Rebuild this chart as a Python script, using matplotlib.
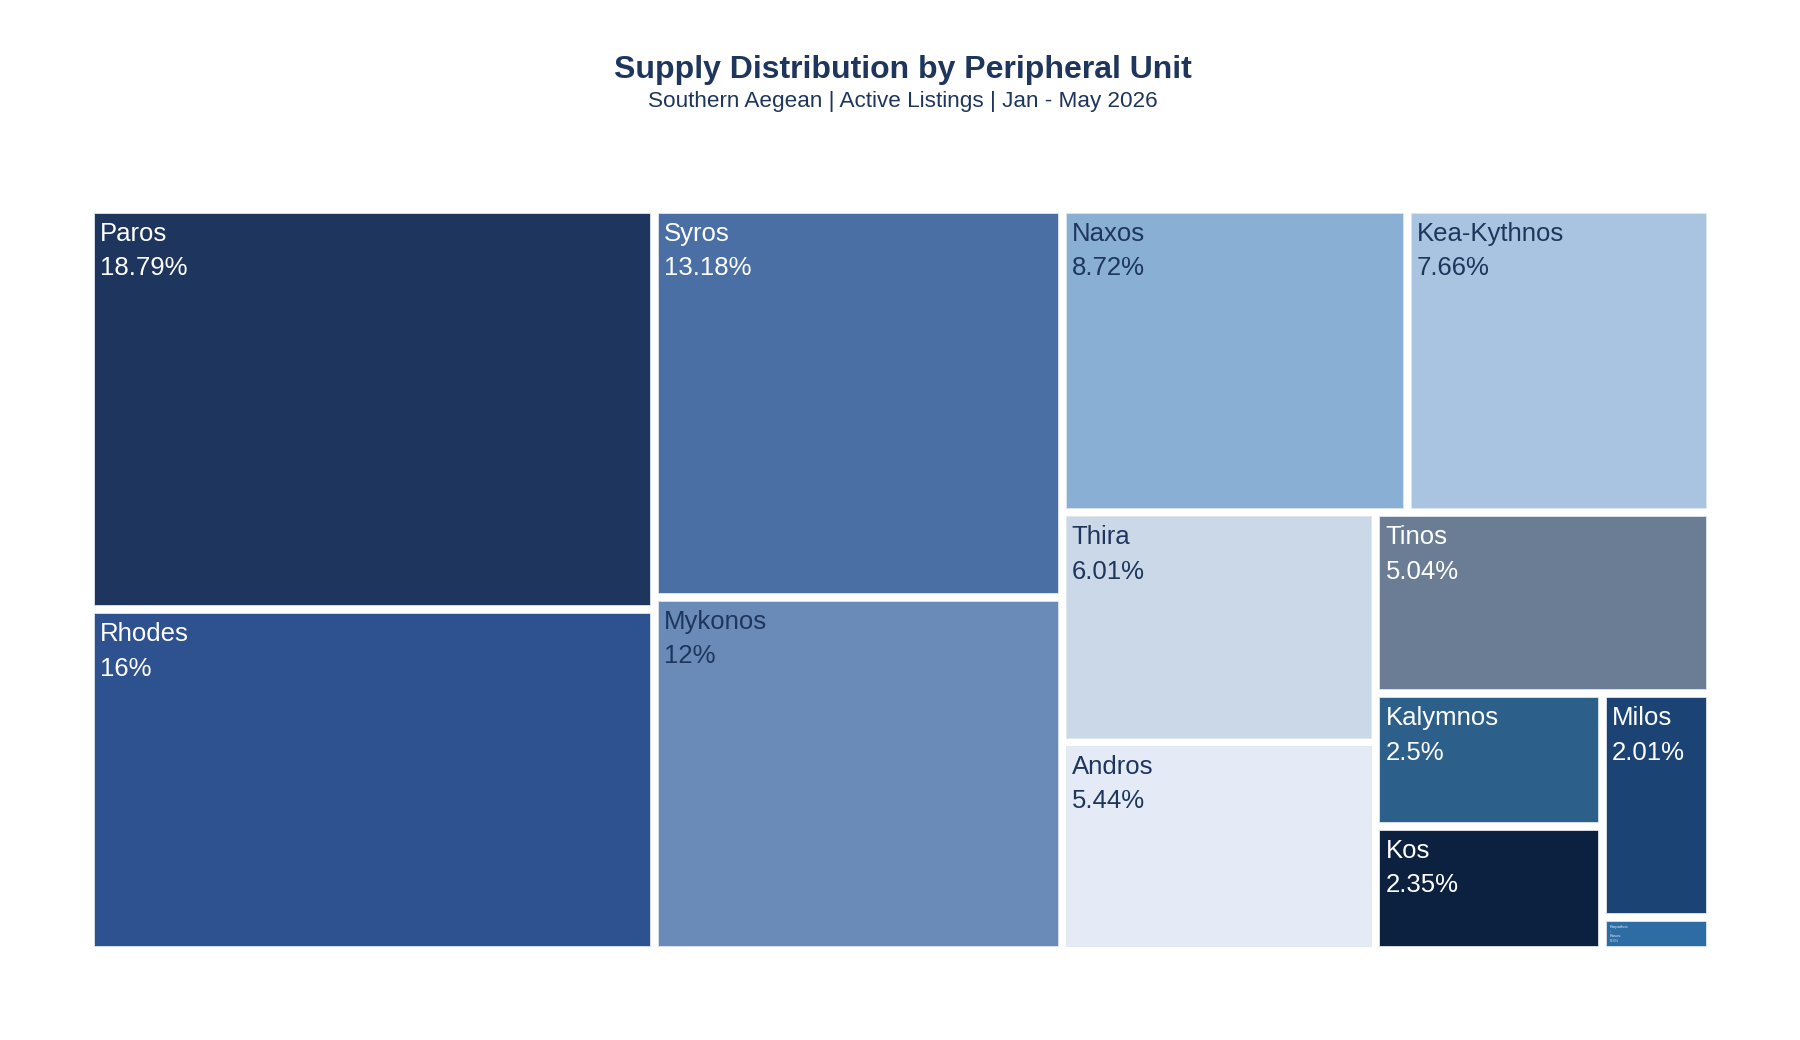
import numpy as np
import matplotlib
matplotlib.use("Agg")
import matplotlib.pyplot as plt
from matplotlib.patches import Rectangle

plt.rcParams['font.family'] = ['Liberation Sans', 'DejaVu Sans']

# data (share of active listings, %)
units = ["Paros", "Rhodes", "Syros", "Mykonos", "Naxos", "Kea-Kythnos", "Thira",
         "Andros", "Tinos", "Kalymnos", "Kos", "Milos", "Karpathos\n-\nKasos"]
shares = [18.79, 16, 13.18, 12, 8.72, 7.66, 6.01, 5.44, 5.04, 2.5, 2.35, 2.01, 0.3]
colors = ["#1e365d", "#2e5190", "#4a6fa4", "#6a8bb8", "#8aafd4", "#a8c4e1", "#cbd8e7",
          "#e4ebf7", "#6b7d94", "#2c5f8a", "#0c203f", "#1b4373", "#2e6ca4"]
dark_text = ["Mykonos", "Naxos", "Kea-Kythnos", "Thira", "Andros"]

NAVY = "#1e365d"


def squarify(values, x0, y0, x1, y1, ratio=1.0):
    # d3 style squarified layout, returns list of (x0, y0, x1, y1)
    rects = []
    value = sum(values)
    n = len(values)
    i0 = i1 = 0
    while i0 < n:
        dx, dy = x1 - x0, y1 - y0
        sum_v = values[i1]
        i1 += 1
        min_v = max_v = sum_v
        alpha = max(dy / dx, dx / dy) / (value * ratio)
        beta = sum_v * sum_v * alpha
        min_ratio = max(max_v / beta, beta / min_v)
        while i1 < n:
            v = values[i1]
            sum_v += v
            min_v = min(min_v, v)
            max_v = max(max_v, v)
            beta = sum_v * sum_v * alpha
            new_ratio = max(max_v / beta, beta / min_v)
            if new_ratio > min_ratio:
                sum_v -= v
                break
            min_ratio = new_ratio
            i1 += 1
        row = values[i0:i1]
        if dx < dy:
            # row across the top
            ny = y0 + dy * sum_v / value
            cx = x0
            for v in row:
                w = dx * v / sum_v
                rects.append((cx, y0, cx + w, ny))
                cx += w
            y0 = ny
        else:
            # column on the left
            nx = x0 + dx * sum_v / value
            cy = y0
            for v in row:
                h = dy * v / sum_v
                rects.append((x0, cy, nx, cy + h))
                cy += h
            x0 = nx
        value -= sum_v
        i0 = i1
    return rects


fig = plt.figure(figsize=(18, 10.4), dpi=100)
ax = fig.add_axes([0, 0, 1, 1])
ax.set_xlim(0, 1800)
ax.set_ylim(1040, 0)
ax.axis("off")

gap = 8
rects = squarify(shares, 94 - gap / 2, 213 - gap / 2, 1706 + gap / 2, 946 + gap / 2)

for name, val, col, (rx0, ry0, rx1, ry1) in zip(units, shares, colors, rects):
    rx0 += gap / 2; ry0 += gap / 2; rx1 -= gap / 2; ry1 -= gap / 2
    ax.add_patch(Rectangle((rx0, ry0), rx1 - rx0, ry1 - ry0, facecolor=col,
                           edgecolor="#dfe6ee", linewidth=0.6))
    tc = NAVY if name in dark_text else "white"
    label = f"{name}\n{val:g}%"
    if val < 1:
        ax.text(rx0 + 4, ry0 + 4, label, color="#dfe8f2", fontsize=3,
                va="top", ha="left", linespacing=1.3)
    else:
        ax.text(rx0 + 6, ry0 + 9, label, color=tc, fontsize=18.5,
                va="top", ha="left", linespacing=1.55)

ax.text(903, 70, "Supply Distribution by Peripheral Unit", fontsize=23,
        fontweight="bold", color=NAVY, ha="center", va="center")
ax.text(903, 101, "Southern Aegean | Active Listings | Jan - May 2026", fontsize=16.2,
        color=NAVY, ha="center", va="center")

fig.savefig("out.png", dpi=100, facecolor="white")
